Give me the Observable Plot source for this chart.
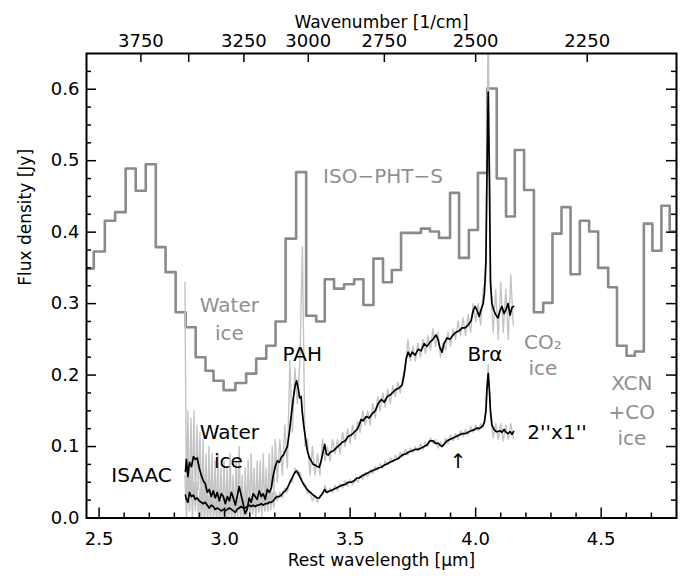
<!DOCTYPE html>
<html><head><meta charset="utf-8">
<script src="https://cdn.jsdelivr.net/npm/d3@7"></script>
<script src="https://cdn.jsdelivr.net/npm/@observablehq/plot@0.6"></script>
<style>body{margin:0;background:#fff;}</style>
</head><body><div id="chart"></div>
<script>
// ISO-PHT-S histogram: bin edges (um) and flux (Jy)
const isoEdges = [2.45,2.479,2.523,2.564,2.606,2.646,2.686,2.726,2.765,2.805,
  2.845,2.885,2.924,2.956,2.996,3.043,3.086,3.126,3.166,3.203,
  3.243,3.285,3.325,3.365,3.399,3.436,3.476,3.516,3.553,3.593,
  3.631,3.666,3.703,3.743,3.782,3.818,3.854,3.898,3.934,3.973,
  4.009,4.046,4.084,4.121,4.156,4.193,4.232,4.269,4.306,4.342,
  4.378,4.415,4.452,4.488,4.528,4.563,4.601,4.634,4.670,4.704,
  4.740,4.773,4.80];
const isoFlux = [0.349,0.373,0.416,0.428,0.489,0.458,0.495,0.379,0.344,0.288,
  0.267,0.225,0.206,0.192,0.179,0.189,0.202,0.223,0.241,0.275,
  0.391,0.484,0.283,0.275,0.334,0.321,0.327,0.334,0.298,0.363,
  0.330,0.347,0.399,0.399,0.405,0.401,0.392,0.455,0.364,0.403,
  0.483,0.601,0.475,0.422,0.515,0.459,0.288,0.301,0.398,0.435,
  0.341,0.416,0.401,0.350,0.323,0.241,0.227,0.233,0.412,0.374,
  0.437,0.401];

// ISAAC smoothed spectra (black)
const specWave = [2.844,2.848,2.854,2.860,2.868,2.876,2.883,2.891,2.899,2.907,
  2.915,2.923,2.931,2.939,2.947,2.955,2.963,2.971,2.979,2.987,
  2.995,3.003,3.011,3.019,3.027,3.035,3.043,3.050,3.058,3.066,
  3.074,3.082,3.090,3.098,3.106,3.114,3.122,3.130,3.138,3.146,
  3.154,3.162,3.170,3.178,3.186,3.194,3.202,3.210,3.218,3.226,
  3.234,3.242,3.250,3.258,3.266,3.274,3.281,3.287,3.293,3.299,
  3.305,3.309,3.315,3.321,3.329,3.337,3.345,3.353,3.361,3.369,
  3.377,3.385,3.393,3.399,3.405,3.413,3.421,3.433,3.445,3.457,
  3.469,3.481,3.492,3.504,3.516,3.528,3.536,3.544,3.552,3.564,
  3.576,3.588,3.600,3.612,3.624,3.636,3.648,3.659,3.671,3.683,
  3.695,3.707,3.715,3.723,3.731,3.739,3.747,3.759,3.771,3.783,
  3.795,3.806,3.818,3.830,3.842,3.850,3.858,3.866,3.874,3.886,
  3.898,3.910,3.922,3.934,3.946,3.958,3.970,3.982,3.990,3.998,
  4.006,4.014,4.022,4.030,4.035,4.041,4.045,4.050,4.055,4.059,
  4.065,4.073,4.081,4.089,4.097,4.105,4.113,4.121,4.129,4.137,
  4.145,4.151];
const specFull = [0.065,0.082,0.058,0.078,0.072,0.086,0.082,0.084,0.070,0.060,
  0.052,0.048,0.036,0.040,0.030,0.038,0.028,0.036,0.024,0.034,
  0.030,0.020,0.030,0.024,0.036,0.028,0.018,0.030,0.044,0.032,
  0.020,0.006,0.012,0.028,0.022,0.034,0.030,0.026,0.038,0.030,
  0.034,0.026,0.040,0.036,0.042,0.060,0.072,0.080,0.078,0.085,
  0.088,0.094,0.100,0.120,0.145,0.168,0.185,0.192,0.182,0.168,
  0.170,0.150,0.130,0.115,0.095,0.085,0.080,0.075,0.074,0.072,
  0.071,0.080,0.094,0.103,0.090,0.088,0.092,0.094,0.098,0.102,
  0.106,0.108,0.114,0.116,0.120,0.124,0.130,0.138,0.136,0.142,
  0.140,0.146,0.150,0.160,0.166,0.162,0.170,0.172,0.176,0.180,
  0.182,0.186,0.200,0.222,0.232,0.226,0.232,0.228,0.236,0.234,
  0.244,0.240,0.246,0.250,0.256,0.250,0.238,0.232,0.244,0.252,
  0.250,0.256,0.260,0.262,0.266,0.266,0.270,0.276,0.290,0.296,
  0.290,0.282,0.292,0.300,0.315,0.360,0.480,0.596,0.470,0.330,
  0.300,0.290,0.284,0.280,0.290,0.296,0.286,0.292,0.300,0.284,
  0.295,0.296];
const specSlit = [0.032,0.026,0.022,0.036,0.030,0.032,0.026,0.028,0.024,0.022,
  0.020,0.022,0.018,0.014,0.018,0.016,0.012,0.014,0.012,0.010,
  0.012,0.010,0.012,0.014,0.012,0.010,0.008,0.012,0.014,0.016,
  0.014,0.014,0.016,0.018,0.016,0.018,0.016,0.018,0.018,0.020,
  0.018,0.020,0.020,0.022,0.022,0.024,0.028,0.030,0.030,0.032,
  0.036,0.038,0.042,0.048,0.054,0.060,0.064,0.066,0.063,0.058,
  0.054,0.051,0.047,0.044,0.040,0.037,0.035,0.032,0.030,0.028,
  0.028,0.032,0.036,0.040,0.036,0.037,0.038,0.040,0.042,0.044,
  0.046,0.047,0.050,0.050,0.052,0.056,0.056,0.058,0.060,0.062,
  0.064,0.066,0.068,0.070,0.071,0.074,0.076,0.078,0.080,0.082,
  0.084,0.088,0.089,0.090,0.092,0.093,0.094,0.096,0.096,0.098,
  0.100,0.102,0.108,0.108,0.104,0.105,0.102,0.100,0.103,0.108,
  0.110,0.112,0.114,0.116,0.118,0.118,0.120,0.122,0.123,0.124,
  0.126,0.125,0.127,0.130,0.134,0.150,0.180,0.202,0.178,0.150,
  0.130,0.124,0.121,0.121,0.122,0.120,0.124,0.120,0.118,0.121,
  0.117,0.121];

// ISAAC raw (unsmoothed) spectra (light grey)
const rawWave = [2.842,2.848,2.854,2.860,2.866,2.872,2.878,2.884,2.890,2.896,
  2.902,2.908,2.914,2.920,2.926,2.932,2.938,2.944,2.950,2.956,
  2.962,2.968,2.974,2.980,2.986,2.992,2.998,3.004,3.010,3.016,
  3.022,3.028,3.034,3.040,3.046,3.052,3.058,3.064,3.070,3.076,
  3.082,3.088,3.094,3.100,3.106,3.112,3.118,3.124,3.130,3.136,
  3.142,3.148,3.154,3.160,3.166,3.172,3.178,3.184,3.190,3.196,
  3.202,
  3.21,3.22,3.23,3.24,3.25,3.26,3.27,3.28,3.29,3.30,
  3.31,3.32,3.33,3.34,3.35,3.36,3.37,3.38,3.39,3.40,
  3.41,3.42,3.43,3.44,3.45,3.46,3.47,3.48,3.49,3.50,
  3.51,3.52,3.53,3.54,3.55,3.56,3.57,3.58,3.59,3.60,
  3.61,3.62,3.63,3.64,3.65,3.66,3.67,3.68,3.69,3.70,
  3.71,3.72,3.73,3.74,3.75,3.76,3.77,3.78,3.79,3.80,
  3.81,3.82,3.83,3.84,3.85,3.86,3.87,3.88,3.89,3.90,
  3.91,3.92,3.93,3.94,3.95,3.96,3.97,3.98,3.99,4.00,
  4.01,4.02,4.03,4.04,4.05,4.06,4.07,4.08,4.09,4.10,
  4.11,4.12,4.13,4.14,4.15];
const rawFull = [0.33,0.02,0.15,0.01,0.14,0.03,0.15,0.02,0.13,0.04,
  0.12,0.00,0.11,0.00,0.09,0.00,0.10,0.00,0.09,0.00,
  0.08,0.00,0.09,0.00,0.07,0.00,0.08,0.00,0.07,0.00,
  0.09,0.00,0.06,0.00,0.08,0.01,0.10,0.00,0.06,-0.01,
  0.07,0.00,0.08,0.00,0.09,0.01,0.07,0.00,0.08,0.01,
  0.08,0.00,0.09,0.01,0.07,0.01,0.09,0.02,0.10,0.03,
  0.11,
  0.05,0.11,0.06,0.13,0.07,0.22,0.12,0.21,0.16,0.22,
  0.38,0.10,0.11,0.06,0.10,0.06,0.09,0.06,0.11,0.08,
  0.10,0.08,0.11,0.09,0.11,0.09,0.12,0.10,0.125,0.105,
  0.13,0.11,0.135,0.12,0.15,0.13,0.15,0.13,0.16,0.14,
  0.17,0.15,0.175,0.155,0.18,0.16,0.185,0.17,0.19,0.175,
  0.20,0.21,0.25,0.22,0.24,0.22,0.245,0.225,0.25,0.23,
  0.255,0.235,0.265,0.24,0.26,0.225,0.245,0.235,0.26,0.24,
  0.265,0.25,0.275,0.255,0.28,0.255,0.285,0.26,0.30,0.275,
  0.30,0.27,0.32,0.33,0.70,0.32,0.26,0.32,0.25,0.33,
  0.26,0.32,0.25,0.34,0.27];
const rawSlit = [0.06,0.00,0.07,0.01,0.06,0.00,0.05,0.01,0.05,0.00,
  0.04,0.00,0.04,0.00,0.035,0.00,0.03,0.00,0.03,0.00,
  0.025,0.00,0.03,-0.005,0.025,0.00,0.025,-0.005,0.025,0.00,
  0.03,0.00,0.025,-0.005,0.025,0.00,0.03,0.00,0.03,0.00,
  0.03,0.005,0.03,0.005,0.03,0.005,0.03,0.005,0.03,0.008,
  0.03,0.008,0.032,0.01,0.032,0.01,0.035,0.012,0.035,0.014,
  0.036,
  0.024,0.036,0.028,0.042,0.036,0.052,0.050,0.070,0.060,0.064,
  0.050,0.048,0.034,0.036,0.024,0.032,0.022,0.032,0.032,0.046,
  0.034,0.042,0.036,0.046,0.038,0.048,0.042,0.052,0.044,0.054,
  0.046,0.056,0.050,0.060,0.054,0.064,0.058,0.068,0.062,0.072,
  0.066,0.076,0.070,0.080,0.074,0.084,0.078,0.088,0.082,0.092,
  0.086,0.096,0.088,0.098,0.092,0.100,0.094,0.104,0.096,0.106,
  0.100,0.112,0.104,0.110,0.098,0.106,0.100,0.112,0.104,0.116,
  0.108,0.118,0.110,0.122,0.114,0.124,0.116,0.128,0.120,0.130,
  0.122,0.132,0.126,0.150,0.215,0.140,0.112,0.132,0.110,0.132,
  0.108,0.130,0.110,0.132,0.112];

// axis ticks
const xMajor = [2.5, 3.0, 3.5, 4.0, 4.5];
const xMinor = [2.6,2.7,2.8,2.9,3.1,3.2,3.3,3.4,3.6,3.7,3.8,3.9,4.1,4.2,4.3,4.4,4.6,4.7];
const yMajor = [0, 0.1, 0.2, 0.3, 0.4, 0.5, 0.6];
const yMinor = [0.025,0.05,0.075,0.125,0.15,0.175,0.225,0.25,0.275,0.325,0.35,0.375,
  0.425,0.45,0.475,0.525,0.55,0.575,0.625];
const wnTicks = [3750, 3500, 3250, 3000, 2750, 2500, 2250];
const wnLabels = [3750, 3250, 3000, 2750, 2500, 2250];

// annotations
const greyNotes = [
  {w: 3.631, f: 0.478, t: "ISO\u2212PHT\u2212S"},
  {w: 3.019, f: 0.297, t: "Water"}, {w: 3.019, f: 0.258, t: "ice"},
  {w: 4.268, f: 0.246, t: "CO\u2082"}, {w: 4.268, f: 0.209, t: "ice"},
  {w: 4.622, f: 0.188, t: "XCN"}, {w: 4.622, f: 0.148, t: "+CO"}, {w: 4.622, f: 0.111, t: "ice"}
];
const blackNotes = [
  {w: 3.309, f: 0.229, t: "PAH"},
  {w: 4.037, f: 0.229, t: "Br\u03b1"},
  {w: 3.019, f: 0.120, t: "Water"}, {w: 3.015, f: 0.079, t: "ice"},
  {w: 2.669, f: 0.059, t: "ISAAC"},
  {w: 3.930, f: 0.079, t: "\u2191"},
  {w: 4.324, f: 0.120, t: "2''x1''"}
];

const W = 685, H = 576, mL = 86, mR = 9, mT = 53, mB = 58.5;
const xDom = [2.45, 4.8], yDom = [0, 0.65];
const pxX = (xDom[1]-xDom[0])/(W-mL-mR), pxY = (yDom[1]-yDom[0])/(H-mT-mB);

const isoData = isoEdges.map((e,i) => ({w: e, f: isoFlux[Math.min(i, isoFlux.length-1)]}));
const specData = specWave.map((w,i) => ({w, a: specFull[i], b: specSlit[i]}));
const rawData = rawWave.map((w,i) => ({w, a: rawFull[i], b: rawSlit[i]}));

const fs = 18, ft = 17;
const chart = Plot.plot({
  width: W, height: H, marginLeft: mL, marginRight: mR, marginTop: mT, marginBottom: mB,
  x: {domain: xDom, axis: null},
  y: {domain: yDom, axis: null},
  style: {fontFamily: "DejaVu Sans", background: "white", overflow: "visible"},
  marks: [
    Plot.line(isoData, {x: "w", y: "f", curve: "step-after", stroke: "#8a8a8a", strokeWidth: 2.6, clip: true}),
    Plot.line(rawData, {x: "w", y: "a", stroke: "#c4c4c4", strokeWidth: 1.4, clip: true}),
    Plot.line(rawData, {x: "w", y: "b", stroke: "#c4c4c4", strokeWidth: 1.4, clip: true}),
    Plot.line(specData, {x: "w", y: "a", stroke: "black", strokeWidth: 1.7, clip: true}),
    Plot.line(specData, {x: "w", y: "b", stroke: "black", strokeWidth: 1.7, clip: true}),
    // ticks (inward)
    Plot.ruleX(xMajor, {x: d => d, y1: 0, y2: 10*pxY, stroke: "black", strokeWidth: 1.5}),
    Plot.ruleX(xMinor, {x: d => d, y1: 0, y2: 5*pxY, stroke: "black", strokeWidth: 1.5}),
    Plot.ruleX(wnTicks, {x: d => 1e4/d, y1: 0.65, y2: 0.65 - 9*pxY, stroke: "black", strokeWidth: 1.5}),
    Plot.ruleY(yMajor, {y: d => d, x1: xDom[0], x2: xDom[0] + 10*pxX, stroke: "black", strokeWidth: 1.5}),
    Plot.ruleY(yMinor, {y: d => d, x1: xDom[0], x2: xDom[0] + 5*pxX, stroke: "black", strokeWidth: 1.5}),
    Plot.ruleY(yMajor, {y: d => d, x1: xDom[1], x2: xDom[1] - 10*pxX, stroke: "black", strokeWidth: 1.5}),
    Plot.ruleY(yMinor, {y: d => d, x1: xDom[1], x2: xDom[1] - 5*pxX, stroke: "black", strokeWidth: 1.5}),
    Plot.frame({stroke: "black", strokeWidth: 2}),
    // tick labels
    Plot.text(xMajor, {x: d => d, y: 0, dy: 21.5, text: d => d3.format(".1f")(d), fontSize: fs, fill: "black"}),
    Plot.text(yMajor, {x: xDom[0], y: d => d, dx: -7, textAnchor: "end", text: d => d3.format(".1f")(d), fontSize: fs, fill: "black"}),
    Plot.text(wnLabels, {x: d => 1e4/d, y: 0.65, dy: -12, text: d => String(d), fontSize: fs, fill: "black"}),
    // axis titles
    Plot.text(["Rest wavelength [\u03bcm]"], {frameAnchor: "bottom", dy: 47.5, text: d => d, fontSize: ft, fill: "black"}),
    Plot.text(["Wavenumber [1/cm]"], {frameAnchor: "top", dy: -38, text: d => d, fontSize: ft, fill: "black"}),
    Plot.text(["Flux density [Jy]"], {frameAnchor: "left", dx: -61, rotate: -90, text: d => d, fontSize: ft, fill: "black"}),
    // annotations
    Plot.text(greyNotes, {x: "w", y: "f", text: "t", fontSize: 20, fill: "#8f8f8f"}),
    Plot.text(blackNotes, {x: "w", y: "f", text: "t", fontSize: 20, fill: "black"})
  ]
});
document.getElementById("chart").appendChild(chart);
</script></body></html>
